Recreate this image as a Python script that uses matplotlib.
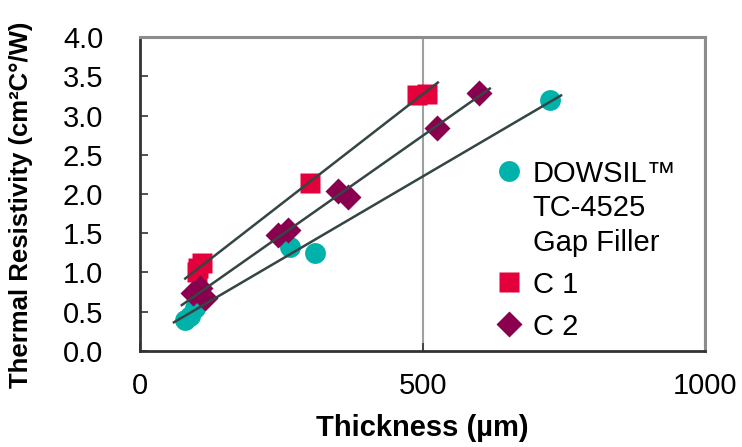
import numpy as np
import matplotlib.pyplot as plt

plt.rcParams['font.family'] = ['Liberation Sans', 'DejaVu Sans']

# DOWSIL TC-4525 Gap Filler
dow_x = [80, 88, 98, 110, 265, 309, 725]
dow_y = [0.40, 0.45, 0.55, 0.68, 1.32, 1.25, 3.20]
# C 1
c1_x = [100, 103, 110, 300, 490, 507]
c1_y = [1.00, 1.06, 1.12, 2.14, 3.26, 3.27]
# C 2
c2_x = [94, 106, 115, 244, 262, 350, 368, 525, 599]
c2_y = [0.74, 0.80, 0.68, 1.48, 1.54, 2.04, 1.96, 2.84, 3.29]

teal = '#00b2a9'
red = '#e4003b'
plum = '#8a004f'
linec = '#354545'

fig = plt.figure(figsize=(7.42, 4.47), dpi=100)
ax = fig.add_axes([0.1887, 0.215, 0.7616, 0.702])

series = [
    (dow_x, dow_y, 'o', teal, 15, 'DOWSIL\u2122\nTC-4525\nGap Filler'),
    (c1_x, c1_y, 's', red, 14, 'C 1'),
    (c2_x, c2_y, 'D', plum, 13, 'C 2'),
]
for xs, ys, mk, col, ms, lab in series:
    ax.plot(xs, ys, mk, color=col, ms=ms, mec='none', label=lab, zorder=3)

# linear trend lines
for xs, ys, mk, col, ms, lab in series:
    k, b = np.polyfit(xs, ys, 1)
    xx = np.array([min(xs) - 20, max(xs) + 20])
    ax.plot(xx, k * xx + b, color=linec, lw=1.8, zorder=4)

ax.set_xlim(0, 1000)
ax.set_ylim(0, 4.0)
ax.set_xticks([0, 500, 1000])
ax.set_yticks(np.arange(0, 4.01, 0.5))
ax.yaxis.set_major_formatter(plt.FormatStrFormatter('%.1f'))
ax.xaxis.grid(True, color='#a0a0a0', lw=1.5)
ax.tick_params(direction='in', length=6, width=1.2, labelsize=21, colors='#333333', labelcolor='black')
ax.tick_params(axis='y', pad=26.5)
ax.tick_params(axis='x', pad=15)
for s in ['left', 'bottom']:
    ax.spines[s].set_color('#333333')
    ax.spines[s].set_linewidth(2)
for s in ['top', 'right']:
    ax.spines[s].set_color('#8c8c8c')
    ax.spines[s].set_linewidth(2.2)

ax.set_xlabel('Thickness (\u00b5m)', fontsize=21, fontweight='bold')
ax.set_ylabel('Thermal Resistivity (cm\u00b2C\u00b0/W)', fontsize=18.5, fontweight='bold')
ax.xaxis.set_label_coords(0.5, -0.2)
ax.yaxis.set_label_coords(-0.189, 0.465)

leg = ax.legend(loc='upper left', bbox_to_anchor=(0.627, 0.609), frameon=False, fontsize=21,
                handletextpad=0.32, labelspacing=0.45, handlelength=1.0, handleheight=1.0,
                borderpad=0, borderaxespad=0, numpoints=1, markerscale=1.0)
# marker next to the first line of the multi-line label
leg._legend_handle_box.get_children()[0].get_children()[0].align = 'top'
leg.get_texts()[0].set_linespacing(1.3)

fig.savefig('out.png', dpi=100)
